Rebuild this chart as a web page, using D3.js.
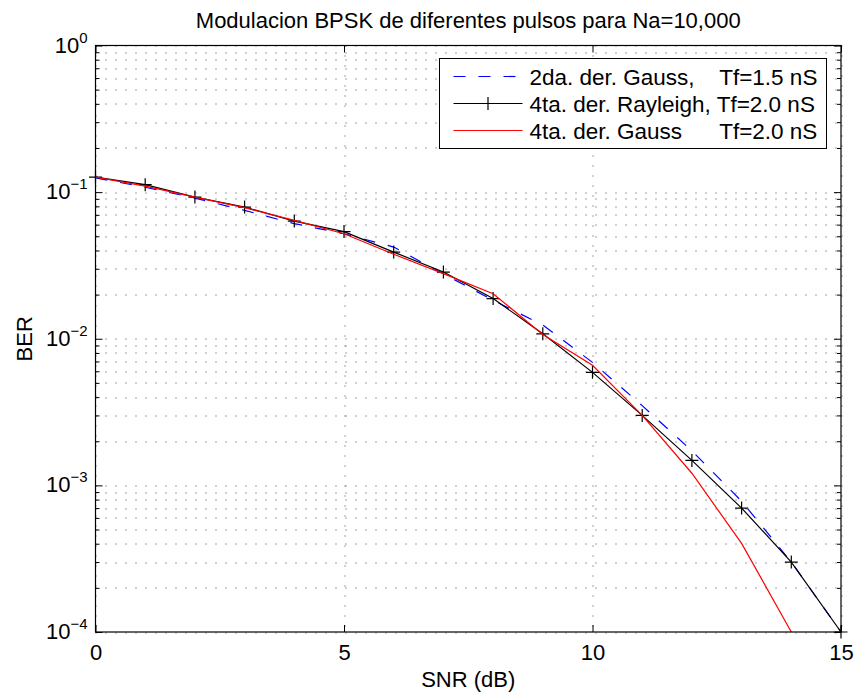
<!DOCTYPE html>
<html>
<head>
<meta charset="utf-8">
<script src="https://cdn.jsdelivr.net/npm/d3@7"></script>
<style>
    body { margin: 0; background: #fff; }
    text { font-family: "Liberation Sans", Arial, Helvetica, sans-serif; fill: #000; }
</style>
</head>
<body>
<div id="ber_chart"></div>
<script>
// BER vs SNR for three pulse shapes

var snr = [0, 1, 2, 3, 4, 5, 6, 7, 8, 9, 10, 11, 12, 13, 14, 15];
var berGauss2 = [0.125, 0.108, 0.091, 0.0751, 0.061, 0.052, 0.0422, 0.0277, 0.0183, 0.0124, 0.0069, 0.0035, 0.00172, 0.00078, 0.0003, 0.0001];
var berRayleigh4 = [0.1266, 0.1124, 0.0925, 0.0791, 0.0635, 0.0538, 0.039, 0.0285, 0.0188, 0.0108, 0.0059, 0.0030, 0.00148, 0.0007, 0.0003, 0.0001];
var snrGauss4 = [0, 1, 2, 3, 4, 5, 6, 7, 8, 9, 10, 11, 12, 13, 14];
var berGauss4 = [0.1266, 0.110, 0.0925, 0.0783, 0.0642, 0.052, 0.0377, 0.0278, 0.0203, 0.0107, 0.0066, 0.0030, 0.00121, 0.000402, 0.0001];

var xTicks = [0, 5, 10, 15];
var yDecades = [1, 0.1, 0.01, 0.001, 0.0001];
var legendNames = ["2da. der. Gauss,    Tf=1.5 nS", "4ta. der. Rayleigh, Tf=2.0 nS", "4ta. der. Gauss      Tf=2.0 nS"];

var margin = {
    left: 95.5,
    right: 15,
    top: 45.5,
    bottom: 64
};

var width = 856 - margin.left - margin.right,
    height = 696 - margin.top - margin.bottom;

var svg = d3.select("#ber_chart")
    .append("svg")
    .attr("width", 856)
    .attr("height", 696);

var xScale = d3.scaleLinear()
    .domain([0, 15])
    .range([0, width]);

var yScale = d3.scaleLog()
    .domain([1e-4, 1])
    .range([height, 0]);

var chartGroup = svg.append("g")
    .attr("transform", "translate(" + margin.left + "," + margin.top + ")");

// minor + major values for the log grid
var yGrid = [];
yDecades.slice(1).forEach(function (d) {
    for (var k = 1; k < 10; k++) yGrid.push(d * k);
});
yGrid.push(1);

//dotted grid
chartGroup.append("g").selectAll("line.hgrid")
    .data(yGrid)
    .enter().append("line")
    .attr("x1", 0).attr("x2", width)
    .attr("y1", function (d) { return Math.round(yScale(d)) + 0.5; })
    .attr("y2", function (d) { return Math.round(yScale(d)) + 0.5; })
    .attr("stroke", "#444")
    .attr("stroke-width", 1)
    .attr("stroke-dasharray", "1,9");

chartGroup.append("g").selectAll("line.vgrid")
    .data(xTicks)
    .enter().append("line")
    .attr("x1", function (d) { return Math.round(xScale(d)) + 0.5; })
    .attr("x2", function (d) { return Math.round(xScale(d)) + 0.5; })
    .attr("y1", 0).attr("y2", height)
    .attr("stroke", "#444")
    .attr("stroke-width", 1)
    .attr("stroke-dasharray", "1,9");

//line generator
var line = d3.line()
    .x(function (d) { return xScale(d[0]); })
    .y(function (d) { return yScale(d[1]); });

chartGroup.append("path")
    .attr("d", line(d3.zip(snr, berGauss2)))
    .attr("fill", "none")
    .attr("stroke", "#0000ff")
    .attr("stroke-width", 1.2)
    .attr("stroke-dasharray", "12,13");

chartGroup.append("path")
    .attr("d", line(d3.zip(snr, berRayleigh4)))
    .attr("fill", "none")
    .attr("stroke", "#000")
    .attr("stroke-width", 1.2);

// + markers
var plus = d3.symbol().type(function () { return null; });
chartGroup.append("g").selectAll("path")
    .data(d3.zip(snr, berRayleigh4))
    .enter().append("path")
    .attr("d", function (d) {
        var cx = xScale(d[0]), cy = yScale(d[1]), r = 6.5;
        return "M" + (cx - r) + "," + cy + "H" + (cx + r) + "M" + cx + "," + (cy - r) + "V" + (cy + r);
    })
    .attr("stroke", "#000")
    .attr("stroke-width", 1.2);

chartGroup.append("path")
    .attr("d", line(d3.zip(snrGauss4, berGauss4)))
    .attr("fill", "none")
    .attr("stroke", "#ff0000")
    .attr("stroke-width", 1.2);

// axes with inward ticks
var yMinor = yGrid.filter(function (d) { return yDecades.indexOf(d) < 0 && Math.abs(Math.log10(d) % 1) > 1e-9; });

chartGroup.append("g")
    .call(d3.axisLeft(yScale).tickValues(yDecades).tickSizeInner(-7).tickSizeOuter(0).tickFormat(""));
chartGroup.append("g")
    .call(d3.axisLeft(yScale).tickValues(yMinor).tickSizeInner(-4).tickSizeOuter(0).tickFormat(""));
chartGroup.append("g")
    .attr("transform", "translate(" + width + ",0)")
    .call(d3.axisRight(yScale).tickValues(yDecades).tickSizeInner(-7).tickSizeOuter(0).tickFormat(""));
chartGroup.append("g")
    .attr("transform", "translate(" + width + ",0)")
    .call(d3.axisRight(yScale).tickValues(yMinor).tickSizeInner(-4).tickSizeOuter(0).tickFormat(""));
chartGroup.append("g")
    .attr("transform", "translate(0," + height + ")")
    .call(d3.axisBottom(xScale).tickValues(xTicks).tickSizeInner(-7).tickSizeOuter(0).tickPadding(12))
    .call(function (g) {
        g.selectAll("text").attr("font-size", 22).attr("font-family", null);
    });
chartGroup.append("g")
    .call(d3.axisTop(xScale).tickValues(xTicks).tickSizeInner(-7).tickSizeOuter(0).tickFormat(""));

chartGroup.selectAll(".domain, .tick line").attr("stroke", "#000");
chartGroup.selectAll(".domain").remove();

//box
chartGroup.append("rect")
    .attr("x", 0).attr("y", 0)
    .attr("width", width).attr("height", height)
    .attr("fill", "none")
    .attr("stroke", "#000")
    .attr("stroke-width", 1.2);

// y tick labels 10^n
var yLab = chartGroup.append("g").selectAll("text")
    .data(yDecades)
    .enter().append("text")
    .attr("x", -8)
    .attr("y", function (d) { return yScale(d) + 7; })
    .attr("text-anchor", "end")
    .attr("font-size", 22);
yLab.append("tspan").text("10");
yLab.append("tspan")
    .attr("dy", -10)
    .attr("font-size", 15)
    .text(function (d) { return String(Math.round(Math.log10(d))).replace("-", "\u2212"); });

//labels
svg.append("text")
    .attr("x", margin.left + width / 2)
    .attr("y", 28)
    .attr("text-anchor", "middle")
    .attr("font-size", 22)
    .text("Modulacion BPSK de diferentes pulsos para Na=10,000");

svg.append("text")
    .attr("x", margin.left + width / 2)
    .attr("y", 687)
    .attr("text-anchor", "middle")
    .attr("font-size", 22)
    .text("SNR (dB)");

svg.append("text")
    .attr("transform", "translate(32," + (margin.top + height / 2) + ") rotate(-90)")
    .attr("text-anchor", "middle")
    .attr("font-size", 22)
    .text("BER");

//legend
var legend = svg.append("g").attr("transform", "translate(439.5,58.5)");
legend.append("rect")
    .attr("width", 387).attr("height", 90)
    .attr("fill", "#fff")
    .attr("stroke", "#000")
    .attr("stroke-width", 1);

var legColors = ["#0000ff", "#000", "#ff0000"];
var legDash = ["12,13", null, null];
legendNames.forEach(function (name, i) {
    var ly = 18 + i * 27;
    legend.append("line")
        .attr("x1", 14).attr("x2", 83)
        .attr("y1", ly).attr("y2", ly)
        .attr("stroke", legColors[i])
        .attr("stroke-width", 1.2)
        .attr("stroke-dasharray", legDash[i]);
    if (i === 1) {
        legend.append("path")
            .attr("d", "M" + (48.5 - 6.5) + "," + ly + "H" + (48.5 + 6.5) + "M48.5," + (ly - 6.5) + "V" + (ly + 6.5))
            .attr("stroke", "#000")
            .attr("stroke-width", 1.2);
    }
    legend.append("text")
        .attr("x", 90)
        .attr("y", ly + 8)
        .attr("font-size", 22.5)
        .style("white-space", "pre")
        .text(name);
});
</script>
</body>
</html>
